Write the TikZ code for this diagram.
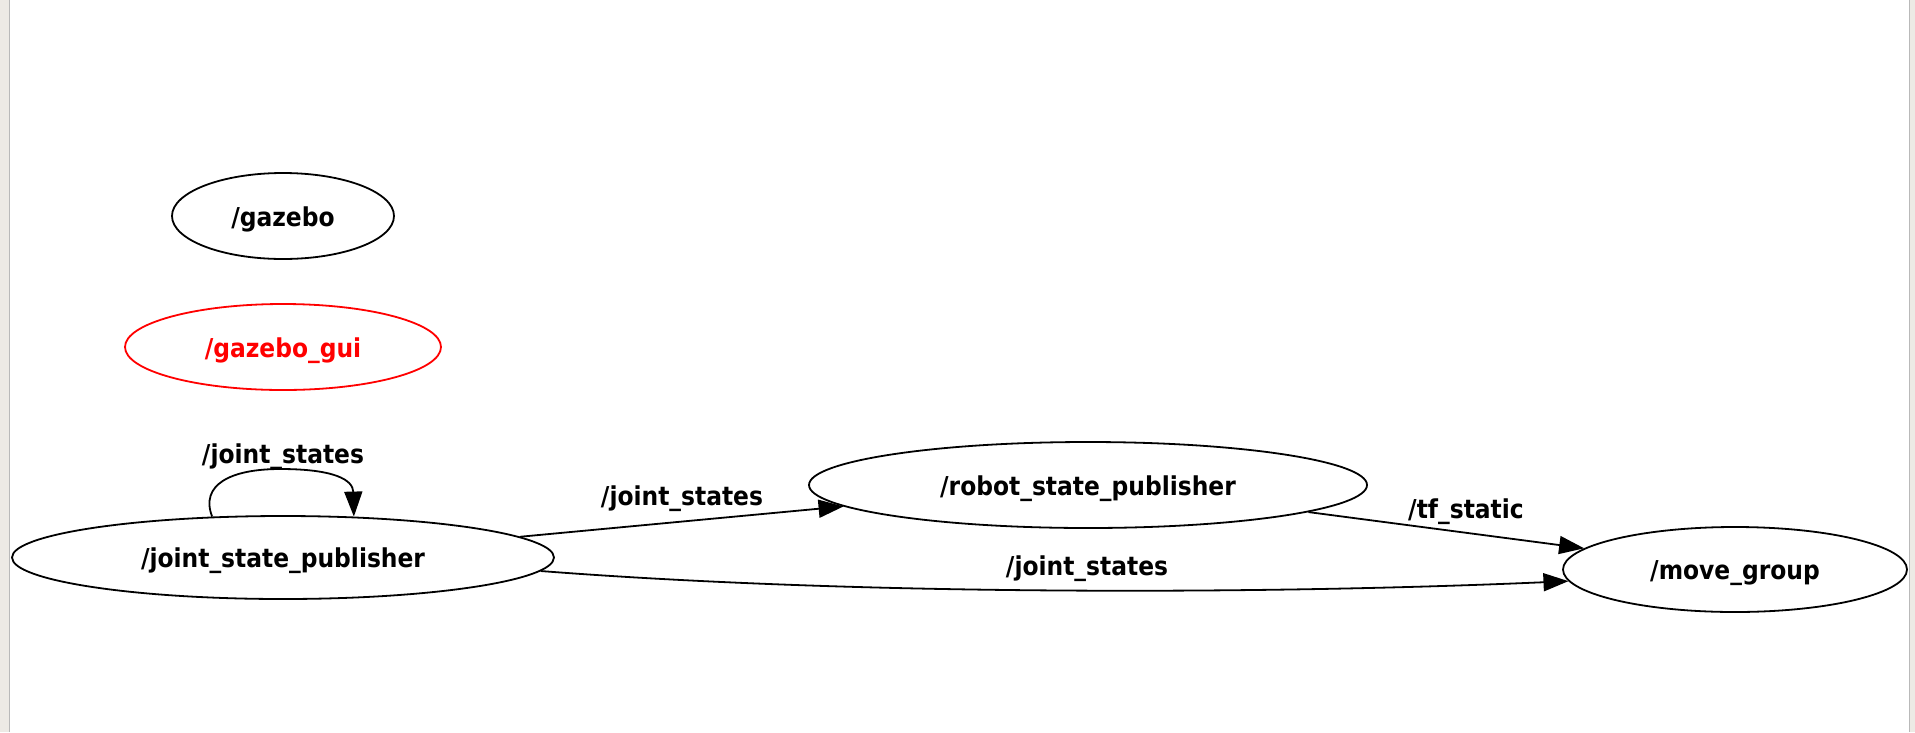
\documentclass[tikz,border=0pt]{standalone}
\usepackage{fontspec}
\setmainfont{DejaVu Sans Condensed}
\usetikzlibrary{shapes.geometric,arrows.meta}
\definecolor{sidegray}{RGB}{237,234,229}
\definecolor{edgegray}{RGB}{185,185,185}
\tikzset{
  lbl/.style={font=\fontsize{26}{30}\selectfont\bfseries, text height=26.5pt, text depth=6.5pt},
  rosnode/.style={ellipse, draw=black, line width=1.8pt, inner sep=0pt, lbl},
  topic/.style={inner sep=0pt, lbl},
  link/.style={line width=1.8pt, -{Triangle[length=25pt,width=18pt]}}
}
\begin{document}
\begin{tikzpicture}[x=1pt,y=-1pt]
\useasboundingbox (0,0) rectangle (1915,732);
\fill[white] (0,0) rectangle (1915,732);
\fill[sidegray] (0,0) rectangle (9,732);
\fill[sidegray] (1910,0) rectangle (1915,732);
\draw[edgegray, line width=1.2pt] (9.5,0) -- (9.5,732);
\draw[edgegray, line width=1.2pt] (1909.5,0) -- (1909.5,732);

\node[rosnode, minimum width=222pt, minimum height=86pt] (gazebo) at (283,216) {/gazebo};
\node[rosnode, draw=red, text=red, minimum width=316pt, minimum height=86pt] (gui) at (283,347) {/gazebo\_gui};
\node[rosnode, minimum width=542pt, minimum height=83pt] (jsp) at (283,557.5) {/joint\_state\_publisher};
\node[rosnode, minimum width=558pt, minimum height=86pt] (rsp) at (1088,485) {/robot\_state\_publisher};
\node[rosnode, minimum width=344pt, minimum height=85pt] (mg) at (1735,569.5) {/move\_group};

\draw[link] (jsp.150) .. controls (200,485) and (230,469) .. (280,469) .. controls (335,469) and (353,480) .. (jsp.30);
\node[topic] (l1) at (283,453) {/joint\_states};

\draw[link] (jsp.5) -- (rsp.185);
\node[topic] (l2) at (682,495) {/joint\_states};

\draw[link] (rsp.-7) -- (mg.172);
\node[topic] (l3) at (1466,508) {/tf\_static};

\draw[link] (jsp.-3.5) .. controls (850,595) and (1250,595) .. (mg.184);
\node[topic] (l4) at (1087,565) {/joint\_states};
\end{tikzpicture}
\end{document}
